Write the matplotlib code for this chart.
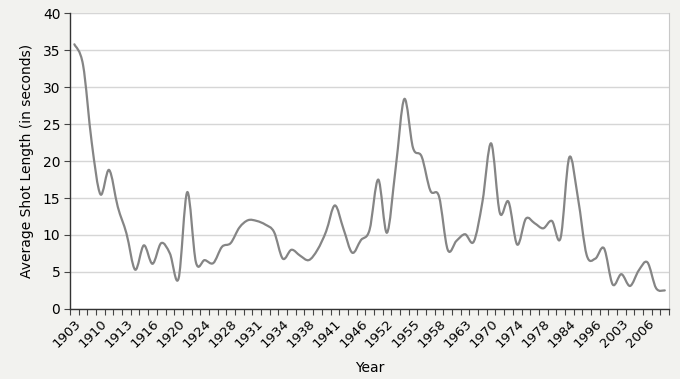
import numpy as np
import matplotlib
matplotlib.use('Agg')
import matplotlib.pyplot as plt
from matplotlib.path import Path
from matplotlib.patches import PathPatch

# one label every third category
year_labels = ['1903', '1910', '1913', '1916', '1920', '1924', '1928', '1931',
               '1934', '1938', '1941', '1946', '1952', '1955', '1958', '1963',
               '1970', '1974', '1978', '1984', '1996', '2003', '2006']

# average shot length (seconds), one value per category
shot_length = [35.8, 33.0, 22.5, 15.5, 18.8, 13.8, 10.2, 5.3, 8.6, 6.1,
               8.9, 7.5, 4.1, 15.8, 6.3, 6.6, 6.2, 8.4, 8.9, 11.0,
               12.0, 11.9, 11.4, 10.4, 6.8, 8.0, 7.2, 6.6, 8.0, 10.5,
               14.0, 10.8, 7.6, 9.3, 10.7, 17.5, 10.3, 19.0, 28.4, 21.8,
               20.6, 16.0, 15.2, 8.0, 9.2, 10.1, 9.1, 14.5, 22.4, 13.0,
               14.5, 8.7, 12.2, 11.6, 10.9, 11.9, 9.6, 20.5, 15.0, 7.3,
               6.8, 8.2, 3.3, 4.7, 3.1, 5.2, 6.3, 2.8, 2.5]

label_every = 3


def smooth_path(xs, ys):
    # smoothed line like the spreadsheet one: cubic bezier through each point
    pts = np.column_stack([xs, ys]).astype(float)
    padded = np.vstack([pts[0], pts, pts[-1]])
    verts = [pts[0]]
    codes = [Path.MOVETO]
    for i in range(len(pts) - 1):
        p0, p1, p2, p3 = padded[i], padded[i + 1], padded[i + 2], padded[i + 3]
        verts += [p1 + (p2 - p0) / 6, p2 - (p3 - p1) / 6, p2]
        codes += [Path.CURVE4] * 3
    return Path(verts, codes)


def main():
    n = len(shot_length)
    x = np.arange(n)

    fig = plt.figure(figsize=(6.8, 3.79), dpi=100)
    fig.patch.set_facecolor('#f2f2ef')
    ax = fig.add_axes([0.103, 0.185, 0.881, 0.780])
    ax.set_facecolor('white')

    path = smooth_path(x, shot_length)
    ax.add_patch(PathPatch(path, fill=False, edgecolor='#858585', lw=1.6,
                           capstyle='round', joinstyle='round', zorder=3))

    ax.set_xlim(-0.5, n - 0.5)
    ax.set_ylim(0, 40)
    ax.set_yticks(np.arange(0, 41, 5))
    ax.yaxis.grid(True, color='#d6d6d6', lw=1.0)
    ax.set_axisbelow(True)

    # tick marks between categories, labels on the categories
    ax.set_xticks(np.arange(n + 1) - 0.5)
    ax.set_xticklabels([])
    ax.set_xticks(x[::label_every], minor=True)
    ax.set_xticklabels(year_labels, minor=True, rotation=45, ha='right',
                       va='top', rotation_mode='anchor', fontsize=9.5)
    ax.tick_params(axis='x', which='major', length=4, color='#444444', width=0.8)
    ax.tick_params(axis='x', which='minor', length=0, pad=6)
    ax.tick_params(axis='y', length=4, color='#444444', width=0.8,
                   labelsize=10, pad=3)

    for side in ['left', 'bottom']:
        ax.spines[side].set_color('#333333')
        ax.spines[side].set_linewidth(1.0)
    ax.spines['top'].set_visible(False)
    ax.spines['right'].set_color('#c8c8c8')

    ax.set_xlabel('Year', fontsize=10, labelpad=8)
    ax.set_ylabel('Average Shot Length (in seconds)', fontsize=10, labelpad=6)

    fig.savefig('out.png', dpi=100, facecolor=fig.get_facecolor())
    plt.close()


if __name__ == "__main__":
    main()
